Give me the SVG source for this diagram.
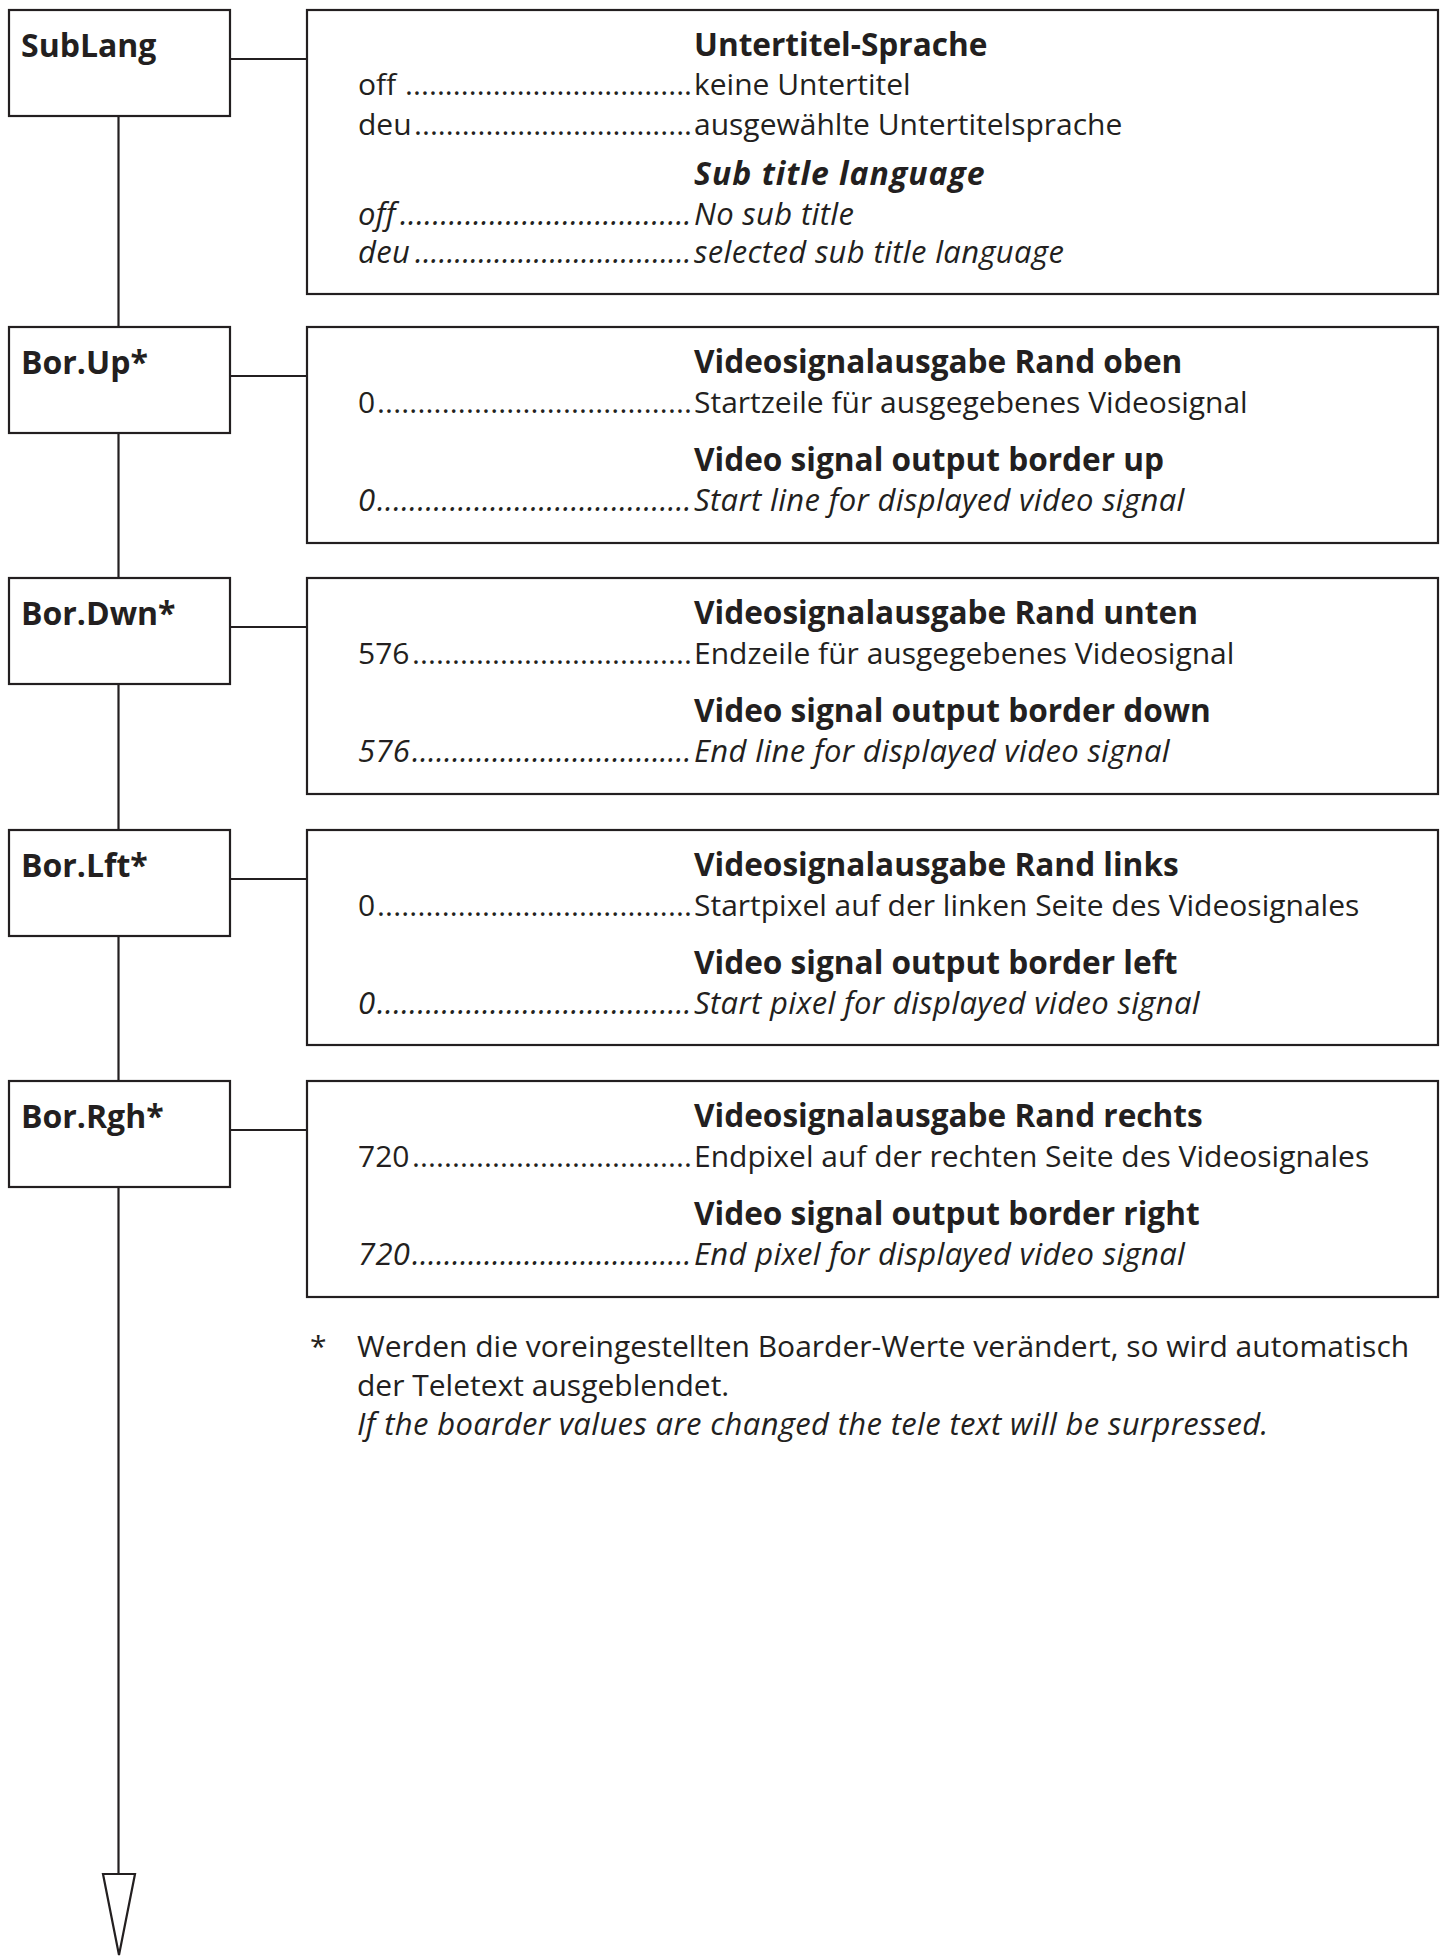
<svg xmlns="http://www.w3.org/2000/svg" width="1446" height="1957" viewBox="0 0 1446 1957">
  <style>
    .box { fill: #ffffff; stroke: #231f20; stroke-width: 2.2; }
    .wire { fill: none; stroke: #231f20; stroke-width: 2.2; }
    .head { fill: #ffffff; stroke: #231f20; stroke-width: 2.2; stroke-linejoin: miter; }
    text { font-family: "Open Sans", "Liberation Sans", sans-serif; fill: #231f20; }
    .lbl { font-size: 32px; font-weight: 700; }
    .ttl { font-size: 31.6px; font-weight: 700; }
    .ttli { font-size: 32px; font-weight: 700; font-style: italic; letter-spacing: 1px; }
    .t { font-size: 30px; font-weight: 400; }
    .ti { font-size: 31px; font-weight: 400; font-style: italic; letter-spacing: 0.35px; }
  </style>
  <rect width="1446" height="1957" fill="#ffffff"/>

  <!-- connectors: main spine, branches to description panels, end arrow -->
  <g id="connectors">
    <line class="wire" x1="118.5" y1="116" x2="118.5" y2="327"/>
    <line class="wire" x1="118.5" y1="433" x2="118.5" y2="578"/>
    <line class="wire" x1="118.5" y1="684" x2="118.5" y2="830"/>
    <line class="wire" x1="118.5" y1="936" x2="118.5" y2="1081"/>
    <line class="wire" x1="118.5" y1="1187" x2="118.5" y2="1874"/>
    <polygon class="head" points="103,1874 135,1874 119,1955"/>
    <line class="wire" x1="230" y1="59" x2="307" y2="59"/>
    <line class="wire" x1="230" y1="376" x2="307" y2="376"/>
    <line class="wire" x1="230" y1="627" x2="307" y2="627"/>
    <line class="wire" x1="230" y1="879" x2="307" y2="879"/>
    <line class="wire" x1="230" y1="1130" x2="307" y2="1130"/>
  </g>

  <!-- menu items -->
  <g id="node-sublang">
    <rect class="box" x="9" y="10" width="221" height="106"/>
    <text class="lbl" x="21" y="57">SubLang</text>
  </g>
  <g id="node-borup">
    <rect class="box" x="9" y="327" width="221" height="106"/>
    <text class="lbl" x="21" y="374">Bor.Up*</text>
  </g>
  <g id="node-bordwn">
    <rect class="box" x="9" y="578" width="221" height="106"/>
    <text class="lbl" x="21" y="625">Bor.Dwn*</text>
  </g>
  <g id="node-borlft">
    <rect class="box" x="9" y="830" width="221" height="106"/>
    <text class="lbl" x="21" y="877">Bor.Lft*</text>
  </g>
  <g id="node-borrgh">
    <rect class="box" x="9" y="1081" width="221" height="106"/>
    <text class="lbl" x="21" y="1128">Bor.Rgh*</text>
  </g>

  <!-- description panels -->
  <g id="desc-sublang">
    <rect class="box" x="307" y="10" width="1131" height="284"/>
    <text class="ttl" x="694" y="56">Untertitel-Sprache</text>
    <text class="t" x="358" y="95">off </text>
    <text class="t" x="405" y="95" textLength="287" lengthAdjust="spacing">....................................</text>
    <text class="t" x="694" y="95">keine Untertitel</text>
    <text class="t" x="358" y="135">deu</text>
    <text class="t" x="414" y="135" textLength="278" lengthAdjust="spacing">...................................</text>
    <text class="t" x="694" y="135">ausgewählte Untertitelsprache</text>
    <text class="ttli" x="694" y="185">Sub title language</text>
    <text class="ti" x="358" y="225">off</text>
    <text class="ti" x="400" y="225" textLength="292" lengthAdjust="spacing">....................................</text>
    <text class="ti" x="694" y="225">No sub title</text>
    <text class="ti" x="358" y="263">deu</text>
    <text class="ti" x="415" y="263" textLength="277" lengthAdjust="spacing">...................................</text>
    <text class="ti" x="694" y="263">selected sub title language</text>
  </g>

  <g id="desc-borup">
    <rect class="box" x="307" y="327" width="1131" height="216"/>
    <text class="ttl" x="694" y="373">Videosignalausgabe Rand oben</text>
    <text class="t" x="358" y="413">0</text>
    <text class="t" x="377" y="413" textLength="315" lengthAdjust="spacing">.......................................</text>
    <text class="t" x="694" y="413">Startzeile für ausgegebenes Videosignal</text>
    <text class="ttl" x="694" y="471">Video signal output border up</text>
    <text class="ti" x="358" y="511">0</text>
    <text class="ti" x="377" y="511" textLength="315" lengthAdjust="spacing">.......................................</text>
    <text class="ti" x="694" y="511">Start line for displayed video signal</text>
  </g>

  <g id="desc-bordwn">
    <rect class="box" x="307" y="578" width="1131" height="216"/>
    <text class="ttl" x="694" y="624">Videosignalausgabe Rand unten</text>
    <text class="t" x="358" y="664">576</text>
    <text class="t" x="412" y="664" textLength="280" lengthAdjust="spacing">...................................</text>
    <text class="t" x="694" y="664">Endzeile für ausgegebenes Videosignal</text>
    <text class="ttl" x="694" y="722">Video signal output border down</text>
    <text class="ti" x="358" y="762">576</text>
    <text class="ti" x="412" y="762" textLength="280" lengthAdjust="spacing">...................................</text>
    <text class="ti" x="694" y="762">End line for displayed video signal</text>
  </g>

  <g id="desc-borlft">
    <rect class="box" x="307" y="830" width="1131" height="215"/>
    <text class="ttl" x="694" y="876">Videosignalausgabe Rand links</text>
    <text class="t" x="358" y="916">0</text>
    <text class="t" x="377" y="916" textLength="315" lengthAdjust="spacing">.......................................</text>
    <text class="t" x="694" y="916">Startpixel auf der linken Seite des Videosignales</text>
    <text class="ttl" x="694" y="974">Video signal output border left</text>
    <text class="ti" x="358" y="1014">0</text>
    <text class="ti" x="377" y="1014" textLength="315" lengthAdjust="spacing">.......................................</text>
    <text class="ti" x="694" y="1014">Start pixel for displayed video signal</text>
  </g>

  <g id="desc-borrgh">
    <rect class="box" x="307" y="1081" width="1131" height="216"/>
    <text class="ttl" x="694" y="1127">Videosignalausgabe Rand rechts</text>
    <text class="t" x="358" y="1167">720</text>
    <text class="t" x="412" y="1167" textLength="280" lengthAdjust="spacing">...................................</text>
    <text class="t" x="694" y="1167">Endpixel auf der rechten Seite des Videosignales</text>
    <text class="ttl" x="694" y="1225">Video signal output border right</text>
    <text class="ti" x="358" y="1265">720</text>
    <text class="ti" x="412" y="1265" textLength="280" lengthAdjust="spacing">...................................</text>
    <text class="ti" x="694" y="1265">End pixel for displayed video signal</text>
  </g>

  <!-- footnote -->
  <g id="footnote">
    <text class="t" x="310" y="1357">*</text>
    <text class="t" x="357" y="1357">Werden die voreingestellten Boarder-Werte verändert, so wird automatisch</text>
    <text class="t" x="357" y="1396">der Teletext ausgeblendet.</text>
    <text class="ti" x="357" y="1435">If the boarder values are changed the tele text will be surpressed.</text>
  </g>
</svg>
